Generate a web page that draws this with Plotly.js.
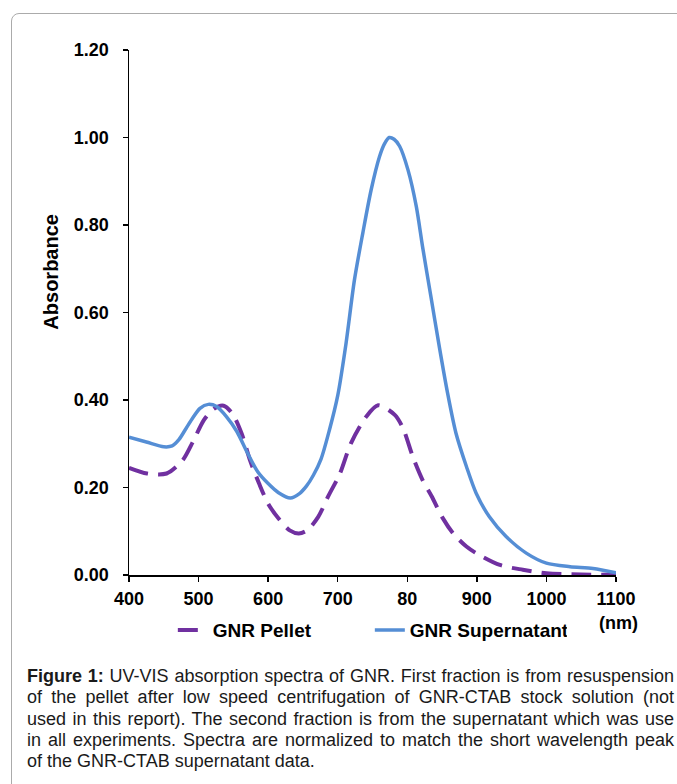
<!DOCTYPE html>
<html>
<head>
<meta charset="utf-8">
<script src="https://cdn.plot.ly/plotly-3.0.1.min.js"></script>
<style>
  html, body { margin: 0; padding: 0; background: #ffffff; overflow: hidden; width: 677px; height: 784px; }
  #frame { position: absolute; left: 11px; top: 13px; width: 720px; height: 820px;
           border: 1.5px solid #ababab; border-radius: 8px; pointer-events: none; }
  #chart { position: absolute; left: 0; top: 0; width: 677px; height: 784px; }
  #caption { position: absolute; left: 27px; top: 666px; width: 647px;
             font-family: 'Liberation Sans', Arial, sans-serif; font-size: 18px; color: #1a1a1a; }
  #caption div { height: 21.3px; line-height: 21.3px; text-align: justify; text-align-last: justify; }
  #caption div.last { text-align: left; text-align-last: left; }
</style>
</head>
<body>
<div id="chart"></div>
<div id="caption"></div>
<div id="frame"></div>
<script>
// ---- data ----
const supernatantName = "GNR Supernatant";
const supernatantWavelength = [400, 425, 450, 462, 472, 482, 492, 502, 514, 526, 540, 555, 570, 585, 600, 615, 632, 645, 655, 665, 676, 688, 700, 712, 724, 736, 748, 760, 767, 774, 781, 789, 801, 813, 822, 834, 846, 858, 870, 885, 899, 918, 942, 971, 1000, 1034, 1067, 1100];
const supernatantAbs = [0.315, 0.304, 0.293, 0.295, 0.310, 0.335, 0.360, 0.381, 0.390, 0.385, 0.362, 0.328, 0.280, 0.236, 0.209, 0.188, 0.176, 0.186, 0.203, 0.228, 0.265, 0.331, 0.410, 0.530, 0.674, 0.781, 0.880, 0.956, 0.985, 1.000, 0.996, 0.980, 0.926, 0.842, 0.750, 0.636, 0.522, 0.415, 0.324, 0.248, 0.187, 0.133, 0.088, 0.050, 0.027, 0.019, 0.015, 0.005];

const pelletName = "GNR Pellet";
const pelletWavelength = [400, 426, 454, 477, 492, 508, 522, 536, 549, 562, 574, 587, 600, 615, 631, 644, 656, 672, 687, 703, 719, 741, 758, 782, 794, 808, 822, 835, 851, 866, 885, 899, 933, 966, 1000, 1050, 1100];
const pelletAbs = [0.245, 0.232, 0.232, 0.262, 0.305, 0.355, 0.380, 0.387, 0.368, 0.323, 0.262, 0.209, 0.163, 0.129, 0.102, 0.095, 0.102, 0.133, 0.182, 0.231, 0.301, 0.362, 0.388, 0.366, 0.335, 0.270, 0.217, 0.180, 0.130, 0.095, 0.065, 0.050, 0.023, 0.012, 0.004, 0.001, 0.001];

const xTickValues = [400, 500, 600, 700, 800, 900, 1000, 1100];
const xTickLabels = ["400", "500", "600", "700", "80", "900", "1000", "1100"];
const yAxisTitle = "Absorbance";
const xUnitLabel = "(nm)";

const captionBold = "Figure 1:";
const captionLines = [
  " UV-VIS absorption spectra of GNR. First fraction is from resuspension",
  "of the pellet after low speed centrifugation of GNR-CTAB stock solution (not",
  "used in this report). The second fraction is from the supernatant which was use",
  "in all experiments. Spectra are normalized to match the short wavelength peak",
  "of the GNR-CTAB supernatant data."
];

// ---- chart ----
const tickFont = { family: "Liberation Sans, Arial, sans-serif", size: 18, color: "#000", weight: "bold" };

const traces = [
  {
    x: pelletWavelength, y: pelletAbs, name: pelletName, type: "scatter", mode: "lines",
    line: { color: "#7030a0", width: 4, dash: "20px,10px", shape: "spline", smoothing: 0.8 }
  },
  {
    x: supernatantWavelength, y: supernatantAbs, name: supernatantName, type: "scatter", mode: "lines",
    line: { color: "#558ed5", width: 3.5, shape: "spline", smoothing: 0.8 }
  }
];

const layout = {
  width: 677, height: 784,
  margin: { l: 129, r: 61, t: 50, b: 209, pad: 0 },
  paper_bgcolor: "#ffffff", plot_bgcolor: "#ffffff",
  showlegend: true,
  legend: {
    orientation: "h", x: 0.09, xanchor: "left", y: -0.105, yanchor: "middle",
    font: { family: "Liberation Sans, Arial, sans-serif", size: 19, color: "#000", weight: "bold" },
    entrywidth: 152, bgcolor: "rgba(0,0,0,0)"
  },
  xaxis: {
    range: [400, 1100], tickvals: xTickValues, ticktext: xTickLabels,
    ticks: "outside", ticklen: 5, tickwidth: 1.5, tickcolor: "#000",
    showline: true, linecolor: "#000", linewidth: 1.5, mirror: false,
    showgrid: false, zeroline: false, tickfont: tickFont, ticklabelstandoff: 2
  },
  yaxis: {
    range: [0, 1.2], tick0: 0, dtick: 0.2, tickformat: ".2f",
    ticks: "outside", ticklen: 5, tickwidth: 1.5, tickcolor: "#000",
    showline: true, linecolor: "#000", linewidth: 1.5,
    showgrid: false, zeroline: false, tickfont: tickFont, ticklabelstandoff: 10
  },
  annotations: [
    {
      text: yAxisTitle, xref: "paper", yref: "paper", x: -0.159, y: 0.577,
      xanchor: "center", yanchor: "middle", textangle: -90, showarrow: false,
      font: { family: "Liberation Sans, Arial, sans-serif", size: 20, color: "#000", weight: "bold" }
    },
    {
      text: xUnitLabel, xref: "paper", yref: "paper", x: 1.005, y: -0.0914,
      xanchor: "center", yanchor: "middle", showarrow: false,
      font: { family: "Liberation Sans, Arial, sans-serif", size: 18, color: "#000", weight: "bold" }
    }
  ]
};

Plotly.newPlot("chart", traces, layout, { staticPlot: true, displayModeBar: false });

// ---- caption ----
const cap = document.getElementById("caption");
captionLines.forEach(function (line, i) {
  const d = document.createElement("div");
  if (i === 0) {
    const b = document.createElement("b");
    b.textContent = captionBold;
    d.appendChild(b);
  }
  d.appendChild(document.createTextNode(line));
  if (i === captionLines.length - 1) d.className = "last";
  cap.appendChild(d);
});
</script>
</body>
</html>
